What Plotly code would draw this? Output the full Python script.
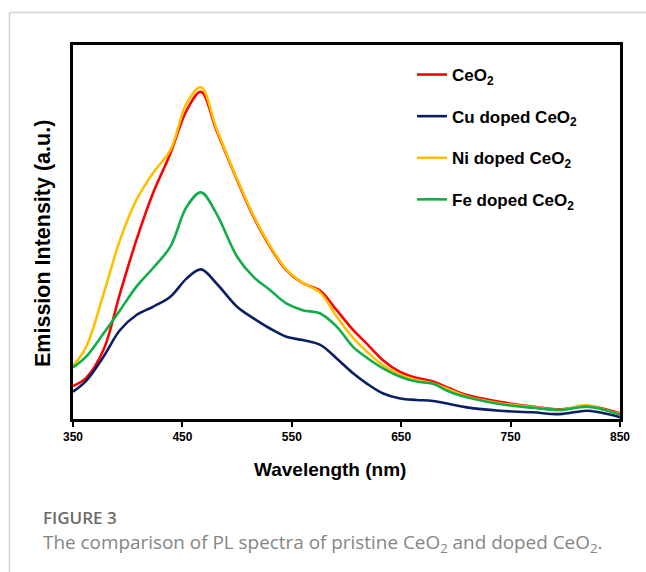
import plotly.graph_objects as go

wavelength = [350, 362, 378, 393, 408, 423, 439, 454, 467, 481, 500, 515, 530, 545, 560, 576, 591, 606,
              618, 633, 649, 664, 679, 694, 710, 740, 770, 795, 819, 831, 850]

ceo2 = [8.8, 11.0, 18.6, 33.6, 47.9, 60.3, 71.0, 82.6, 87.5, 77.3, 63.9, 54.1, 46.1, 39.8, 36.3, 34.3, 29.1, 23.8,
        20.3, 15.8, 12.6, 11.0, 10.0, 8.2, 6.4, 4.6, 3.3, 2.6, 3.5, 3.0, 1.5]
cu_ceo2 = [7.3, 10.2, 16.7, 23.8, 27.8, 30.0, 32.7, 37.6, 40.0, 36.3, 30.0, 26.9, 24.2, 22.0, 21.1, 19.8, 16.2, 12.2,
           9.6, 6.9, 5.5, 5.1, 4.8, 4.0, 3.1, 2.2, 1.8, 1.3, 2.2, 1.8, 0.5]
ni_ceo2 = [14.2, 19.3, 33.5, 47.9, 58.6, 65.7, 71.9, 84.5, 88.7, 77.8, 64.2, 54.4, 46.4, 40.0, 36.4, 33.8, 27.4, 21.7,
           18.2, 14.4, 11.8, 10.4, 9.5, 7.8, 6.0, 4.2, 3.2, 2.4, 3.7, 2.9, 1.3]
fe_ceo2 = [13.8, 16.7, 22.9, 29.1, 35.4, 40.3, 46.1, 56.8, 60.6, 55.0, 43.4, 38.0, 34.5, 30.9, 29.1, 28.2, 24.7, 19.3,
           16.5, 13.6, 11.3, 10.0, 9.4, 7.3, 5.8, 4.0, 3.0, 2.4, 3.3, 2.8, 1.1]

series_names = ["CeO<sub>2</sub>", "Cu doped CeO<sub>2</sub>", "Ni doped CeO<sub>2</sub>", "Fe doped CeO<sub>2</sub>"]
series_values = [ceo2, cu_ceo2, ni_ceo2, fe_ceo2]
series_colors = ["#ff0000", "#0d1f63", "#ffc000", "#12ad4a"]
x_ticks = [350, 450, 550, 650, 750, 850]

W, H = 646, 572
L, R, T, B = 73, 620, 45, 419


def px2x(px):
    return (px - L) / (R - L)


def py2y(py):
    return (B - py) / (B - T)


fig = go.Figure()
for i in range(4):
    fig.add_trace(go.Scatter(
        x=wavelength, y=series_values[i], mode="lines", name=series_names[i],
        line=dict(color=series_colors[i], width=2.6, shape="spline", smoothing=1.0),
        legendgroup=str(i), legendrank=i + 1, showlegend=True,
    ))

font_main = "Liberation Sans, Arial, sans-serif"

fig.update_layout(
    width=W, height=H,
    margin=dict(l=L, r=W - R, t=T, b=H - B),
    paper_bgcolor="white", plot_bgcolor="white",
    showlegend=True,
    legend=dict(
        x=px2x(412), y=py2y(57), xanchor="left", yanchor="top",
        bgcolor="rgba(0,0,0,0)", tracegroupgap=16.5,
        font=dict(family=font_main, size=17, color="black", weight="bold"),
        itemwidth=30,
    ),
    xaxis=dict(
        range=[350, 850], tickvals=x_ticks, ticktext=[str(v) for v in x_ticks],
        showline=True, linecolor="black", linewidth=2.5, mirror=True,
        ticks="outside", ticklen=5, tickwidth=2, tickcolor="black",
        showgrid=False, zeroline=False,
        tickfont=dict(family=font_main, size=12, color="black", weight="bold"),
    ),
    yaxis=dict(
        range=[0, 100], showticklabels=False, ticks="",
        showline=True, linecolor="black", linewidth=2.5, mirror=True,
        showgrid=False, zeroline=False,
    ),
    shapes=[
        dict(type="line", xref="paper", yref="paper", x0=px2x(9.5), x1=px2x(646), y0=py2y(12.5), y1=py2y(12.5),
             line=dict(color="#d4d4d4", width=1.5)),
        dict(type="line", xref="paper", yref="paper", x0=px2x(9.5), x1=px2x(9.5), y0=py2y(12.5), y1=py2y(572),
             line=dict(color="#d4d4d4", width=1.5)),
    ],
    annotations=[
        dict(text="Wavelength (nm)", xref="paper", yref="paper", x=px2x(330), y=py2y(469),
             xanchor="center", yanchor="middle", showarrow=False,
             font=dict(family=font_main, size=19, color="black", weight="bold")),
        dict(text="Emission Intensity (a.u.)", xref="paper", yref="paper", x=px2x(43), y=py2y(244),
             xanchor="center", yanchor="middle", showarrow=False, textangle=-90,
             font=dict(family=font_main, size=21.5, color="black", weight="bold")),
        dict(text="FIGURE 3", xref="paper", yref="paper", x=px2x(41), y=py2y(517), xanchor="left", yanchor="middle",
             showarrow=False, font=dict(family="Open Sans, sans-serif", size=17, color="#6b6b6b", weight=600)),
        dict(text="The comparison of PL spectra of pristine CeO<sub>2</sub> and doped CeO<sub>2</sub>.",
             xref="paper", yref="paper", x=px2x(41), y=py2y(543), xanchor="left", yanchor="middle",
             showarrow=False, font=dict(family="Open Sans, sans-serif", size=18.9, color="#858585")),
    ],
)

fig.write_html("out.html")
